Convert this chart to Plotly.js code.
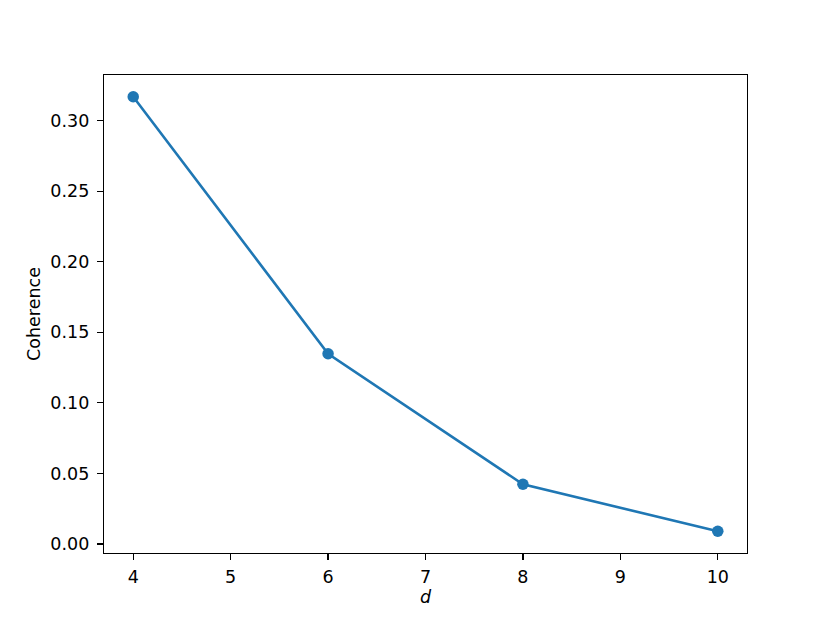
<!DOCTYPE html>
<html>
<head>
<meta charset="utf-8">
<script src="https://cdn.plot.ly/plotly-3.0.1.min.js"></script>
<style>html,body{margin:0;padding:0;background:#fff;}#chart{width:830px;height:623px;}</style>
</head>
<body>
<div id="chart"></div>
<script>
const dValues = [4, 6, 8, 10];
const coherence = [0.3169, 0.1348, 0.0423, 0.0090];
const xTicks = [4, 5, 6, 7, 8, 9, 10];
const yTicks = [0.00, 0.05, 0.10, 0.15, 0.20, 0.25, 0.30];
const yTickLabels = ["0.00", "0.05", "0.10", "0.15", "0.20", "0.25", "0.30"];

const font = {family: "DejaVu Sans", size: 17.5, color: "#000"};

const trace = {
  x: dValues, y: coherence, type: "scatter", mode: "lines+markers",
  line: {color: "#1f77b4", width: 2.6},
  marker: {color: "#1f77b4", size: 11.5},
  hoverinfo: "none"
};

const ymin = Math.min(...coherence), ymax = Math.max(...coherence);
const ypad = (ymax - ymin) * 0.05;
const xpad = (10 - 4) * 0.05;

const axisCommon = {
  showgrid: false, zeroline: false, showline: true, mirror: true,
  linecolor: "#000", linewidth: 1.2, ticks: "outside", ticklen: 6,
  tickwidth: 1.2, tickcolor: "#000", tickfont: font
};

const layout = {
  width: 830, height: 623,
  margin: {l: 104, r: 83, t: 75, b: 70},
  paper_bgcolor: "#fff", plot_bgcolor: "#fff",
  showlegend: false,
  font: font,
  xaxis: Object.assign({}, axisCommon, {
    range: [4 - xpad, 10 + xpad], tickvals: xTicks, ticktext: xTicks.map(String),
    ticklabelstandoff: 2,
    title: {text: "<i>d</i>", font: font, standoff: 4}
  }),
  yaxis: Object.assign({}, axisCommon, {
    range: [ymin - ypad, ymax + ypad], tickvals: yTicks, ticktext: yTickLabels,
    ticklabelstandoff: 4,
    title: {text: "Coherence", font: font, standoff: 5}
  })
};

Plotly.newPlot("chart", [trace], layout, {displayModeBar: false, staticPlot: true});
</script>
</body>
</html>
